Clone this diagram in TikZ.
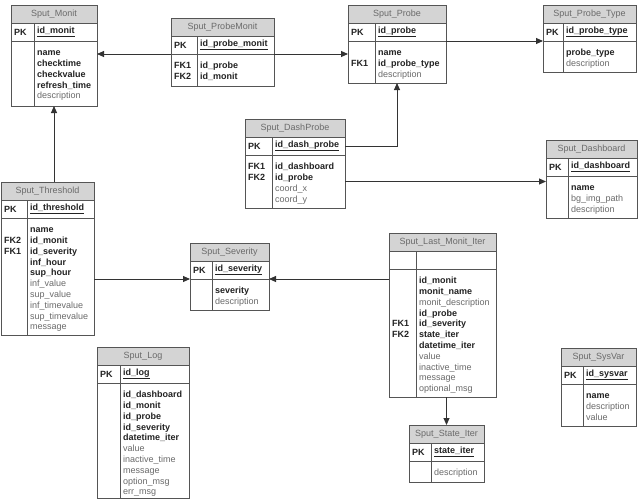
\documentclass[tikz,border=0pt]{standalone}
\usepackage{fontspec}
\setmainfont{Liberation Sans}
\usetikzlibrary{arrows.meta,calc}

\definecolor{hdrgray}{HTML}{D4D4D4}
\definecolor{boxline}{HTML}{555555}
\definecolor{txtgray}{HTML}{6A6A6A}
\definecolor{txtdark}{HTML}{222222}
\definecolor{linkline}{HTML}{333333}

\newcommand{\keyfld}[1]{\leavevmode{\bfseries\color{txtdark}#1}}
\newcommand{\optfld}[1]{\leavevmode{\color{txtgray}#1}}

\tikzset{
  ehead/.style={rectangle, draw=boxline, fill=hdrgray, text=txtgray, line width=0.8pt,
    minimum height=18pt, inner sep=0pt, outer sep=0pt, font=\fontsize{9}{10.8}\selectfont},
  erow/.style={rectangle, draw=boxline, fill=white, line width=0.8pt, inner sep=0pt, outer sep=0pt},
  etext/.style={inner sep=0pt, text=txtdark, font=\fontsize{9}{10.8}\selectfont},
  link/.style={draw=linkline, line width=0.9pt, -{Triangle[length=7pt,width=6pt]}}
}

% name, x, y, width, key column, body height, title, key, primary key
\newcommand{\entity}[9]{%
  \node[ehead, minimum width=#4pt, anchor=north west] (#1) at (#2,#3) {#7};
  \node[erow, minimum width=#4pt, minimum height=18pt, anchor=north] (#1-pk) at (#1.south) {};
  \node[erow, minimum width=#4pt, minimum height=#6pt, anchor=north] (#1-b) at (#1-pk.south) {};
  \draw[boxline, line width=0.8pt] ($(#1-pk.north west)+(#5,0)$) -- ($(#1-b.south west)+(#5,0)$);
  \node[etext, anchor=west] (#1-pkk) at ($(#1-pk.west)+(3,0)$) {\textbf{#8}};
  \node[etext, anchor=west] (#1-pkf) at ($(#1-pk.west)+(#5+3,0)$) {\underline{\textbf{#9}}};
}
% name, key column, rows
\newcommand{\entrows}[3]{%
  \node[etext, anchor=north west] (#1-t) at ($(#1-b.north west)+(3,7)$)
    {\begin{tabular}{@{}p{#2pt}@{}l@{}}#3\end{tabular}};
}

\begin{document}
\begin{tikzpicture}[x=1pt,y=-1pt]
  \useasboundingbox (0,0) rectangle (642,501);

  \entity{monit}{11}{5}{86}{23}{65}{Sput\_Monit}{PK}{id\_monit}
  \entrows{monit}{23}{
    & \keyfld{name}\\
    & \keyfld{checktime}\\
    & \keyfld{checkvalue}\\
    & \keyfld{refresh\_time}\\
    & \optfld{description}}

  \entity{pmonit}{171}{18}{103}{26}{32}{Sput\_ProbeMonit}{PK}{id\_probe\_monit}
  \entrows{pmonit}{26}{
    \keyfld{FK1} & \keyfld{id\_probe}\\
    \keyfld{FK2} & \keyfld{id\_monit}}

  \entity{probe}{348}{5}{98}{27}{42}{Sput\_Probe}{PK}{id\_probe}
  \entrows{probe}{27}{
    & \keyfld{name}\\
    \keyfld{FK1} & \keyfld{id\_probe\_type}\\
    & \optfld{description}}

  \entity{ptype}{543}{5}{93}{20}{31}{Sput\_Probe\_Type}{PK}{id\_probe\_type}
  \entrows{ptype}{20}{
    & \keyfld{probe\_type}\\
    & \optfld{description}}

  \entity{dprobe}{245}{119}{100}{27}{53}{Sput\_DashProbe}{PK}{id\_dash\_probe}
  \entrows{dprobe}{27}{
    \keyfld{FK1} & \keyfld{id\_dashboard}\\
    \keyfld{FK2} & \keyfld{id\_probe}\\
    & \optfld{coord\_x}\\
    & \optfld{coord\_y}}

  \entity{dboard}{546}{140}{91}{22}{42}{Sput\_Dashboard}{PK}{id\_dashboard}
  \entrows{dboard}{22}{
    & \keyfld{name}\\
    & \optfld{bg\_img\_path}\\
    & \optfld{description}}

  \entity{thresh}{1}{182}{93}{26}{117}{Sput\_Threshold}{PK}{id\_threshold}
  \entrows{thresh}{26}{
    & \keyfld{name}\\
    \keyfld{FK2} & \keyfld{id\_monit}\\
    \keyfld{FK1} & \keyfld{id\_severity}\\
    & \keyfld{inf\_hour}\\
    & \keyfld{sup\_hour}\\
    & \optfld{inf\_value}\\
    & \optfld{sup\_value}\\
    & \optfld{inf\_timevalue}\\
    & \optfld{sup\_timevalue}\\
    & \optfld{message}}

  \entity{sev}{190}{243}{79}{22}{31}{Sput\_Severity}{PK}{id\_severity}
  \entrows{sev}{22}{
    & \keyfld{severity}\\
    & \optfld{description}}

  \entity{log}{97}{347}{92}{23}{115}{Sput\_Log}{PK}{id\_log}
  \entrows{log}{23}{
    & \keyfld{id\_dashboard}\\
    & \keyfld{id\_monit}\\
    & \keyfld{id\_probe}\\
    & \keyfld{id\_severity}\\
    & \keyfld{datetime\_iter}\\
    & \optfld{value}\\
    & \optfld{inactive\_time}\\
    & \optfld{message}\\
    & \optfld{option\_msg}\\
    & \optfld{err\_msg}}

  \entity{lmi}{389}{233}{107}{27}{128}{Sput\_Last\_Monit\_Iter}{}{}
  \entrows{lmi}{27}{
    & \keyfld{id\_monit}\\
    & \keyfld{monit\_name}\\
    & \optfld{monit\_description}\\
    & \keyfld{id\_probe}\\
    \keyfld{FK1} & \keyfld{id\_severity}\\
    \keyfld{FK2} & \keyfld{state\_iter}\\
    & \keyfld{datetime\_iter}\\
    & \optfld{value}\\
    & \optfld{inactive\_time}\\
    & \optfld{message}\\
    & \optfld{optional\_msg}}

  \entity{siter}{409}{425}{75}{22}{21}{Sput\_State\_Iter}{PK}{state\_iter}
  \entrows{siter}{22}{
    & \optfld{description}}

  \entity{sysvar}{561}{348}{75}{22}{42}{Sput\_SysVar}{PK}{id\_sysvar}
  \entrows{sysvar}{22}{
    & \keyfld{name}\\
    & \optfld{description}\\
    & \optfld{value}}

  % relations
  \draw[link] (pmonit-b.north west) -- (pmonit-b.north west -| monit-b.east);
  \draw[link] (pmonit-b.north east) -- (pmonit-b.north east -| probe-b.west);
  \draw[link] (probe-b.north east) -- (probe-b.north east -| ptype-b.west);
  \draw[link] (dprobe-pk.east) -| (probe-b.south);
  \draw[link] (dprobe-b.east) -- (dprobe-b.east -| dboard-b.west);
  \draw[link] (thresh.north -| monit-b.south) -- (monit-b.south);
  \draw[link] (sev-b.north west -| thresh-b.east) -- (sev-b.north west);
  \draw[link] (sev-b.north east -| lmi-b.west) -- (sev-b.north east);
  \draw[link] (siter.north |- lmi-b.south) -- (siter.north);
\end{tikzpicture}
\end{document}
